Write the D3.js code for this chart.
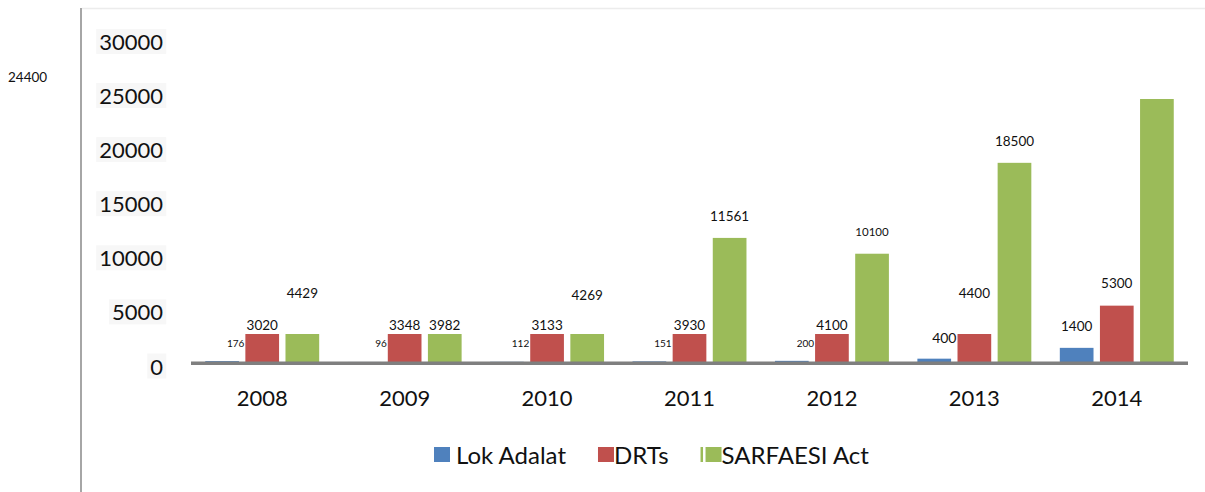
<!DOCTYPE html>
<html>
<head>
<meta charset="utf-8">
<script src="https://cdnjs.cloudflare.com/ajax/libs/d3/7.8.5/d3.min.js"></script>
<style>
    body { margin:0; background:#fff; }
    svg { display:block; font-family:Lato, "Open Sans", sans-serif; }
</style>
</head>
<body>
<svg id="chart"></svg>
<script>
//years on the x axis
var years = ["2008","2009","2010","2011","2012","2013","2014"];

//bar heights as they are drawn in the picture
var lokAdalat = [176, 96, 112, 151, 200, 400, 1400];
var drts = [2680, 2680, 2680, 2680, 2680, 2680, 5300];
var sarfaesi = [2680, 2680, 2680, 11561, 10100, 18500, 24400];

//the numbers printed over the bars
var lokLabels = ["176","96","112","151","200","400","1400"];
var drtLabels = ["3020","3348","3133","3930","4100","4400","5300"];
var sarfaesiLabels = ["4429","3982","4269","11561","10100","18500","24400"];

var yTicks = [0, 5000, 10000, 15000, 20000, 25000, 30000];

var seriesNames = ["Lok Adalat","DRTs","SARFAESI Act"];
var colors = ["#4f81bd","#c0504d","#9bbb59"];

var screen = {width:1205, height:492};

var svg = d3.select("#chart")
    .attr("width",screen.width)
    .attr("height",screen.height);

//frame lines of the pasted picture
svg.append("line")
    .attr("x1",82).attr("x2",screen.width)
    .attr("y1",8.5).attr("y2",8.5)
    .attr("stroke","#ececec")
    .attr("stroke-width",1.5);
svg.append("line")
    .attr("x1",81).attr("x2",81)
    .attr("y1",8).attr("y2",screen.height)
    .attr("stroke","#a6a6a6")
    .attr("stroke-width",2);

//scales
var xScale = d3.scaleBand()
    .domain(years)
    .range([191,1188])
    .paddingInner(0.2)
    .paddingOuter(0.1);

var xSub = d3.scaleBand()
    .domain([0,1,2])
    .range([0,xScale.bandwidth()])
    .paddingInner(0.16);

var yScale = d3.scaleLinear()
    .domain([0,30000])
    .range([363,38.4]);

//one row per year and series
var rows = [];
years.forEach(function(year,i)
{
    rows.push({year:year, s:0, value:lokAdalat[i], label:lokLabels[i]});
    rows.push({year:year, s:1, value:drts[i], label:drtLabels[i]});
    rows.push({year:year, s:2, value:sarfaesi[i], label:sarfaesiLabels[i]});
});

var barX = function(d) { return xScale(d.year)+xSub(d.s); };

//bars
svg.append("g")
    .selectAll("rect")
    .data(rows)
    .enter()
    .append("rect")
    .attr("x",barX)
    .attr("y",function(d) { return yScale(d.value); })
    .attr("width",xSub.bandwidth())
    .attr("height",function(d) { return yScale(0)-yScale(d.value); })
    .attr("fill",function(d) { return colors[d.s]; });

//baseline
svg.append("line")
    .attr("x1",xScale.range()[0]).attr("x2",xScale.range()[1])
    .attr("y1",yScale(0)+0.3).attr("y2",yScale(0)+0.3)
    .attr("stroke","#7f7f7f")
    .attr("stroke-width",3.4);

//y axis
var yAxis = svg.append("g")
    .attr("transform","translate(188,0)")
    .call(d3.axisLeft(yScale).tickValues(yTicks).tickSize(0).tickPadding(25)
        .tickFormat(d3.format("d")));
yAxis.select(".domain").remove();
yAxis.selectAll("text")
    .attr("dy","0.5em")
    .style("font-size","22px")
    .style("font-family","Lato")
    .attr("fill","#111");
yAxis.selectAll(".tick").each(function()
{
    var t = d3.select(this).select("text");
    var b = t.node().getBBox();
    d3.select(this).insert("rect","text")
        .attr("x",b.x-3).attr("y",b.y+1)
        .attr("width",b.width+6).attr("height",b.height-2)
        .attr("fill","#f7f7f7");
});

//x axis
var xAxis = svg.append("g")
    .attr("transform","translate(0,"+yScale(0)+")")
    .call(d3.axisBottom(xScale).tickSize(0).tickPadding(27));
xAxis.select(".domain").remove();
xAxis.selectAll("text")
    .style("font-size","22px")
    .style("font-family","Lato")
    .attr("fill","#111");

//value labels
var labels = svg.append("g")
    .style("font-family","Lato")
    .attr("fill","#111");

labels.selectAll("text")
    .data(rows)
    .enter()
    .append("text")
    .attr("dy","0.35em")
    .text(function(d) { return d.label; })
    .each(function(d,i)
    {
        var t = d3.select(this);
        var v = +d.label;
        var drt = xScale(d.year)+xSub(1);
        var last = d.year===years[years.length-1];
        if (d.s===0 && v<1000)
        {
            //small lok adalat numbers sit left of the drt bar
            t.attr("x",drt-1)
             .attr("y",v<300 ? yScale(0)-20 : yScale(0)-25)
             .attr("text-anchor","end")
             .style("font-size",v<300 ? "10px" : "14px");
            return;
        }
        var y = (v-d.value>1500 || v===d.value) ? yScale(v)-22 : yScale(d.value)-9;
        if (d.s===2 && last)
        {
            //this one got moved to the far left
            t.attr("x",8).attr("y",y).attr("text-anchor","start")
             .style("font-size","13.5px");
            return;
        }
        t.attr("x",barX(d)+xSub.bandwidth()/2)
         .attr("y",y)
         .attr("text-anchor","middle")
         .style("font-size",(d.label.length===5 && v<11000) ? "11.5px" : "13.5px");
    });

//legend
var legend = svg.append("g")
    .attr("transform","translate(434,455)");
var lx = 0;
seriesNames.forEach(function(name,i)
{
    if (i===2)
    {
        legend.append("rect")
            .attr("x",lx).attr("y",-8)
            .attr("width",2.5).attr("height",15)
            .attr("fill",colors[i]);
        lx += 5;
    }
    legend.append("rect")
        .attr("x",lx).attr("y",-8)
        .attr("width",16).attr("height",15)
        .attr("fill",colors[i]);
    var t = legend.append("text")
        .attr("x",lx+16+(i===0 ? 6 : 0))
        .attr("dy","0.36em")
        .style("font-size","24px")
        .attr("fill","#111")
        .text(name);
    lx += 16+(i===0 ? 6 : 0)+t.node().getComputedTextLength()+32;
});
</script>
</body>
</html>
